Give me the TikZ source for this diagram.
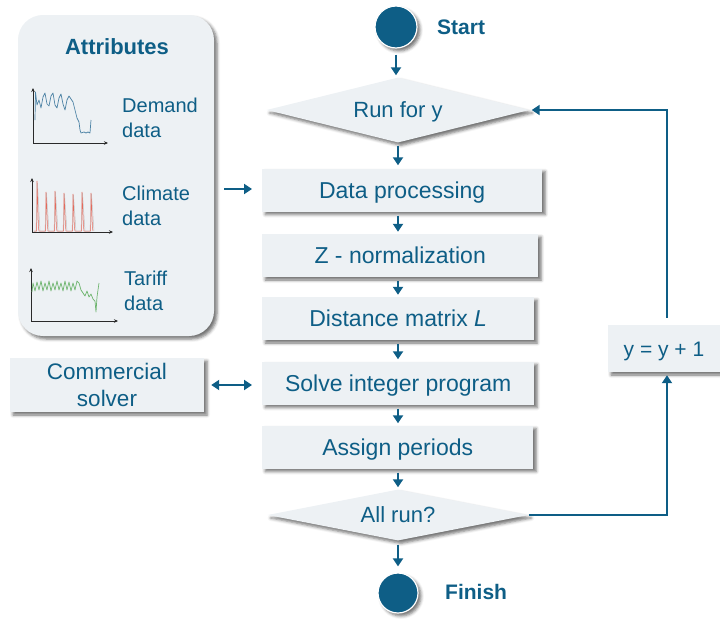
\documentclass[tikz,border=0pt]{standalone}
\usepackage{fontspec}
\setmainfont{Liberation Sans}
\usetikzlibrary{shapes.geometric,arrows.meta,shadows.blur}
\definecolor{ink}{HTML}{0E5E86}
\definecolor{panel}{HTML}{EDF1F4}
\definecolor{axisgray}{HTML}{2A2A2A}
\definecolor{demandline}{HTML}{4F84A6}
\definecolor{climateline}{HTML}{E46A5C}
\definecolor{tariffline}{HTML}{6DB46D}
\begin{document}
\begin{tikzpicture}[x=1pt,y=-1pt,
  soft/.style={blur shadow={shadow xshift=3pt,shadow yshift=-3pt,shadow blur radius=3pt,shadow opacity=55}},
  txt/.style={text=ink,font=\fontsize{23}{28}\selectfont},
  capcentre/.style={text height=#1,text depth=0pt},
  proc/.style={rectangle,fill=panel,soft,minimum height=43pt,anchor=west,inner sep=0pt,txt,capcentre=16.5pt},
  decide/.style={diamond,fill=panel,soft,minimum width=263pt,minimum height=65pt,aspect=4,inner sep=0pt,txt,font=\fontsize{22}{26}\selectfont,capcentre=15.8pt},
  term/.style={circle,fill=ink,draw=white,line width=1.2pt,minimum size=42pt,inner sep=0pt,soft},
  termlabel/.style={text=ink,font=\fontsize{21}{26}\selectfont\bfseries,anchor=west,inner sep=0pt},
  flow/.style={draw=ink,line width=2pt,-{Triangle[length=8pt,width=10pt]}},
  axis/.style={draw=axisgray,line width=0.6pt,-{Stealth[length=4pt,width=3.5pt]}},
  series/.style={line width=0.7pt,line join=round},
  serieslabel/.style={text=ink,font=\fontsize{20}{24.5}\selectfont,align=left,anchor=west,inner sep=0pt},
]
\useasboundingbox (0,0) rectangle (720,619);

% attributes panel
\node[fill=panel,rounded corners=25pt,soft,minimum width=196pt,minimum height=321pt,inner sep=0pt] (attr) at (116,175.5) {};
\node[text=ink,font=\fontsize{22}{26}\selectfont\bfseries] (attrtitle) at (117,47) {Attributes};

% demand chart
\draw[axis] (33,143) -- (33,88);
\draw[axis] (33,143) -- (108,143);
\draw[series,demandline] plot coordinates {(35,120) (35.5,92) (37,105) (39,100) (41,108) (43,97) (45,93) (47,104) (49,106) (51,96) (53,93) (55,105) (57,108) (59,98) (61,94) (63,104) (65,110) (67,100) (69,96) (71,99) (73,102) (75,110) (77,118) (79,122) (80,130) (81,133) (84,132) (86,133) (88,132) (90,133) (91,120)};
\node[serieslabel] (demand) at (122,118) {Demand\\data};

% climate chart
\draw[axis] (32,232) -- (32,178);
\draw[axis] (32,232) -- (113,232);
\draw[series,gray!45,line width=0.5pt] plot coordinates {(33,231) (36,231) (37.5,183) (40,231) (45,231) (46.5,193) (49,231) (54,231) (55.5,192) (58,231) (63,231) (64.5,194) (67,231) (72,231) (73.5,195) (76,231) (81,231) (82.5,193) (85,231) (90,231) (91.5,194) (94,231)};
\draw[series,climateline,line width=0.5pt] plot coordinates {(34,231) (36.7,231) (37,181) (38.5,228) (39,231) (45.7,231) (46,192) (47.5,226) (48,231) (54.7,231) (55,191) (56.5,228) (57,231) (63.7,231) (64,193) (65.5,226) (66,231) (72.7,231) (73,194) (74.5,228) (75,231) (81.7,231) (82,192) (83.5,226) (84,231) (90.7,231) (91,193) (92.5,228) (93,231)};
\node[serieslabel] (climate) at (122,206) {Climate\\data};

% tariff chart
\draw[axis] (31,321) -- (31,268);
\draw[axis] (31,321) -- (118,321);
\draw[series,tariffline] plot coordinates {(32,292) (33,283) (35,291) (37,282) (39,290) (41,281) (43,291) (45,283) (47,290) (49,281) (51,291) (53,283) (55,290) (57,281) (59,290) (61,283) (63,291) (65,281) (67,290) (69,282) (71,291) (73,283) (75,290) (77,281) (79,283) (81,290) (83,293) (85,296) (87,291) (89,297) (91,294) (93,299) (95,301) (96,312) (97,297) (99,283)};
\node[serieslabel] (tariff) at (124,291) {Tariff\\data};

% main flow
\node[term] (start) at (396,27) {};
\node[termlabel] (startlbl) at (437,27) {Start};
\node[decide] (run) at (398,110) {Run for y};
\node[proc,minimum width=280pt] (dp) at (262,190) {Data processing};
\node[proc,minimum width=276pt] (zn) at (262,255.5) {Z - normalization};
\node[proc,minimum width=272pt] (dm) at (262,318.5) {Distance matrix \textit{L}};
\node[proc,minimum width=272pt] (sip) at (262,383) {Solve integer program};
\node[proc,minimum width=271pt] (ap) at (262,447) {Assign periods};
\node[decide,minimum width=261pt,minimum height=51pt,aspect=5] (allrun) at (398,515) {All run?};
\node[term,minimum size=40pt] (finish) at (398,593) {};
\node[termlabel] (finishlbl) at (445,592) {Finish};

% side boxes
\node[rectangle,fill=panel,soft,minimum width=194pt,minimum height=54pt,inner sep=0pt,txt,align=center,font=\fontsize{22.5}{27}\selectfont] (solver) at (107,385) {Commercial\\solver};
\node[rectangle,fill=panel,soft,minimum width=112pt,minimum height=47pt,inner sep=0pt,txt,capcentre=15pt,font=\fontsize{21}{26}\selectfont] (incr) at (664,348.5) {y = y + 1};

% connectors
\coordinate (col) at (398,0);
\draw[flow,shorten <=6pt,shorten >=2pt] (start.south) -- (run.north -| start);
\draw[flow,shorten <=3pt,shorten >=3pt] (run.south) -- (dp.north -| col);
\draw[flow,shorten <=4pt,shorten >=2pt] (dp.south -| col) -- (zn.north -| col);
\draw[flow,shorten <=4pt,shorten >=2pt] (zn.south -| col) -- (dm.north -| col);
\draw[flow,shorten <=4pt,shorten >=2pt] (dm.south -| col) -- (sip.north -| col);
\draw[flow,shorten <=4pt,shorten >=2pt] (sip.south -| col) -- (ap.north -| col);
\draw[flow,shorten <=4pt,shorten >=2pt] (ap.south -| col) -- (allrun.north);
\draw[flow,shorten <=4pt,shorten >=6pt] (allrun.south) -- (finish.north);

% loop back to the top decision
\coordinate (loopx) at (667,0);
\draw[flow] (allrun.east) -- (allrun.east -| loopx) -- ([yshift=-3pt]incr.south -| loopx);
\draw[flow] ([yshift=7pt]incr.north -| loopx) -- (run.east -| loopx) -- ([xshift=2pt]run.east);

% side inputs
\coordinate (attrout) at (224,189);
\draw[flow,shorten >=10pt] (attrout) -- (attrout -| dp.west);
\draw[draw=ink,line width=2pt,{Triangle[length=8pt,width=10pt]}-{Triangle[length=8pt,width=10pt]},shorten <=7pt,shorten >=10pt] (solver.east) -- (solver.east -| sip.west);
\end{tikzpicture}
\end{document}
